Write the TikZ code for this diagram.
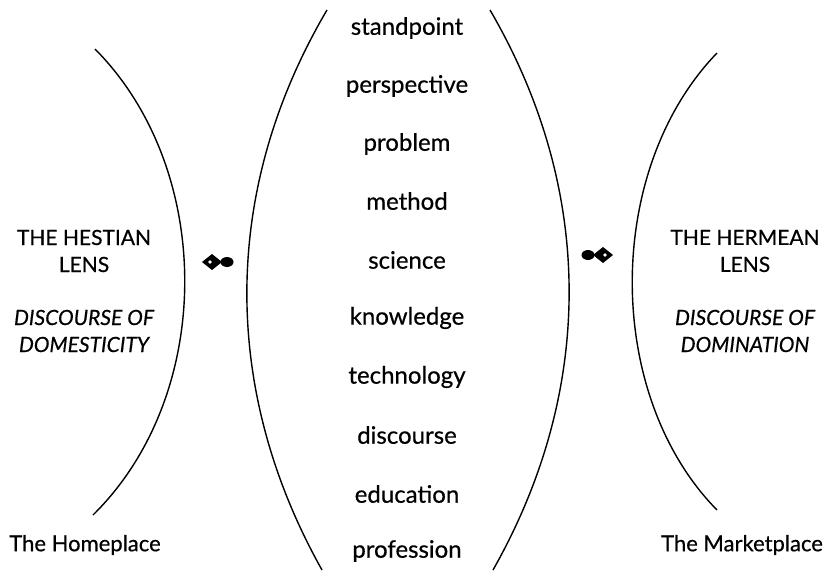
\documentclass[tikz,border=0pt]{standalone}
\usepackage{fontspec}
\setmainfont{Lato}[FakeBold=0.5]
\begin{document}
\begin{tikzpicture}
    [x=0.5pt, y=-0.5pt,
     term/.style={font=\fontsize{12}{14}\selectfont},
     lens/.style={align=center, font=\fontsize{10.5}{13.5}\selectfont},
     place/.style={font=\fontsize{11}{13}\selectfont},
     arc/.style={line width=0.7pt}]
    \useasboundingbox (0,0) rectangle (826,573);

    % middle column
    \node[term] (standpoint) at (407,28) {standpoint};
    \node[term] (perspective) at (407,86) {perspective};
    \node[term] (problem) at (407,144) {problem};
    \node[term] (method) at (407,201) {method};
    \node[term] (science) at (407,260) {science};
    \node[term] (knowledge) at (407,318) {knowledge};
    \node[term] (technology) at (407,377) {technology};
    \node[term] (discourse) at (407,435) {discourse};
    \node[term] (education) at (407,494) {education};
    \node[term] (profession) at (407,551) {profession};

    % side lenses
    \node[lens] (hestian) at (84,251) {THE HESTIAN\\LENS};
    \node[lens] (domesticity) at (84,331) {\itshape DISCOURSE OF\\\itshape DOMESTICITY};
    \node[lens] (hermean) at (745,251) {THE HERMEAN\\LENS};
    \node[lens] (domination) at (745,331) {\itshape DISCOURSE OF\\\itshape DOMINATION};

    \node[place] (homeplace) at (85,545) {The Homeplace};
    \node[place] (marketplace) at (742,545) {The Marketplace};

    % brackets
    \draw[arc] (95,49) .. controls (215,170) and (215,395) .. (93,515);
    \draw[arc] (717,53) .. controls (604,170) and (604,395) .. (717,510);
    \draw[arc] (327,10) .. controls (221,190) and (221,390) .. (322,570);
    \draw[arc] (490,10) .. controls (595,190) and (595,390) .. (493,570);

    % lens marks
    \fill (202,262) -- (212,254) -- (222,262) -- (212,270) -- cycle;
    \fill[white] (210,262) circle (1.8);
    \fill (227,262) ellipse (6.5 and 5);
    \fill (613,255) -- (603,247) -- (593,255) -- (603,263) -- cycle;
    \fill[white] (605,255) circle (1.8);
    \fill (588,255) ellipse (6.5 and 5);
\end{tikzpicture}
\end{document}
